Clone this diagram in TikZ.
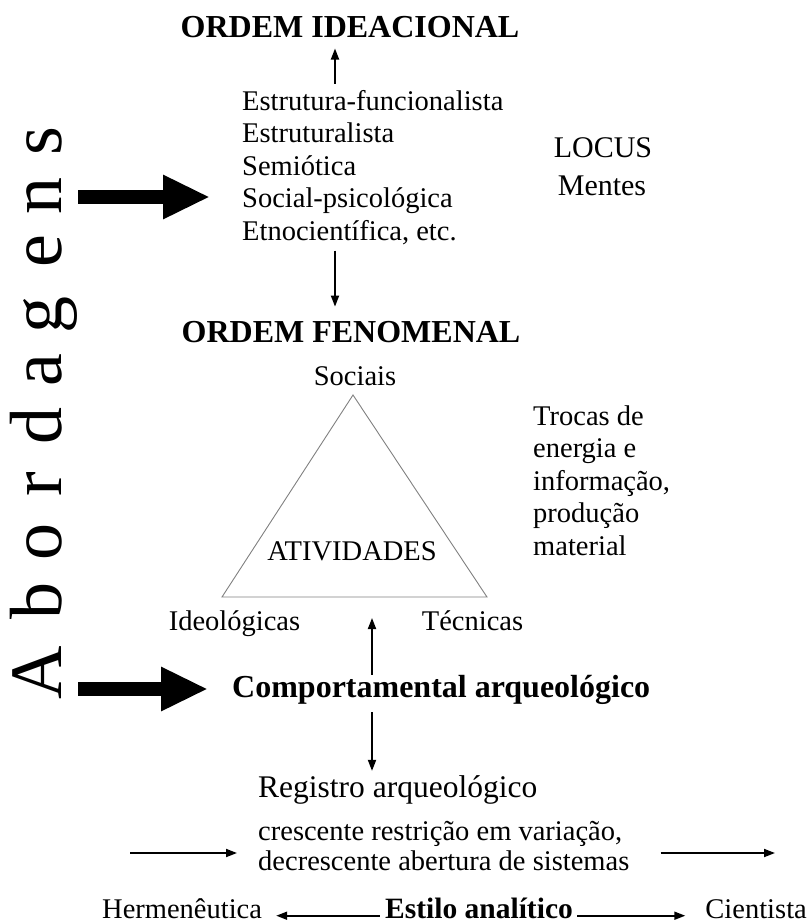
\documentclass[tikz,border=0pt]{standalone}
\usepackage{fontspec}
\setmainfont{Liberation Serif}
\usepackage{tikz}
\usetikzlibrary{arrows.meta}
\tikzset{
    texto/.style={inner sep=0pt, font=\fontsize{28.5}{32}\selectfont},
    titulo/.style={inner sep=0pt, font=\fontsize{32}{36}\selectfont\bfseries},
    letra/.style={inner sep=0pt, rotate=90, anchor=base, font=\fontsize{74}{80}\selectfont},
    fino/.style={-{Triangle[length=11pt, width=8pt]}, line width=1.8pt},
    grossa/.style={-{Triangle[length=47pt, width=41pt]}, line width=14pt},
    tri/.style={draw=gray, line width=0.9pt}
}

\begin{document}
\begin{tikzpicture}[x=1pt, y=-1pt]
        \useasboundingbox (0,0) rectangle (810,924);

        \foreach \l/\y in {A/673, b/601, o/542, r/484, d/426, a/370, g/315, e/251, n/196, s/141}
            \node[letra] (L\l) at (61,\y) {\l};

        \node[titulo, anchor=base] (ideac) at (350,37) {ORDEM IDEACIONAL};
        \foreach \t [count=\i] in {Estrutura-funcionalista, Estruturalista, Semiótica, Social-psicológica, {Etnocientífica, etc.}}
            \node[texto, anchor=base west] (l\i) at (242,77.5+32.5*\i) {\t};
        \node[texto, anchor=base, font=\fontsize{30}{34}\selectfont] (locus) at (603,157) {LOCUS};
        \node[texto, anchor=base, font=\fontsize{30}{34}\selectfont] (mentes) at (602,195) {Mentes};

        \node[titulo, anchor=base] (fenom) at (351,342) {ORDEM FENOMENAL};
        \node[texto, anchor=base] (sociais) at (355,385) {Sociais};
        \draw[tri] (353,395) coordinate (topo) -- (222,597) coordinate (esq) -- (487,597) coordinate (dir) -- cycle;
        \node[texto, anchor=base] (ativ) at (352,560) {ATIVIDADES};
        \node[texto, anchor=base] (ideol) at (234.5,630) {Ideológicas};
        \node[texto, anchor=base] (tecn) at (472.5,630) {Técnicas};
        \foreach \t [count=\i] in {Trocas de, energia e, {informação,}, produção, material}
            \node[texto, anchor=base west] (tr\i) at (533,392.5+32.5*\i) {\t};

        \node[titulo, anchor=base west] (comp) at (232,697) {Comportamental arqueológico};
        \node[texto, anchor=base west, font=\fontsize{31.5}{34}\selectfont] (reg) at (258,797) {Registro arqueológico};
        \node[texto, anchor=base west] (cresc) at (258,840) {crescente restrição em variação,};
        \node[texto, anchor=base west] (decresc) at (258,870) {decrescente abertura de sistemas};

        \node[texto, anchor=base, font=\fontsize{29.5}{32}\selectfont\bfseries] (estilo) at (479,918) {Estilo analítico};
        \node[texto, anchor=base west] (herm) at (102,918) {Hermenêutica};
        \node[texto, anchor=base east] (cient) at (807,918) {Cientista};

        \coordinate (e1) at (335,0);
        \coordinate (e2) at (372,0);
        \coordinate (b1) at (78,197);
        \coordinate (b2) at (78,689);
        \coordinate (ini) at (130,853);
        \coordinate (fim) at (775,853);

        \draw[grossa, shorten >=32pt] (b1) -- (b1 -| l4.west);
        \draw[grossa, shorten >=24pt] (b2) -- (b2 -| comp.west);

        \draw[fino, shorten <=6pt, shorten >=11pt] (l1.north -| e1) -- (ideac.south -| e1);
        \draw[fino, shorten <=6pt, shorten >=14pt] (l5.south -| e1) -- (fenom.north -| e1);
        \draw[fino, shorten >=21pt] (comp.north -| e2) -- (esq -| e2);
        \draw[fino, shorten <=8pt, shorten >=4pt] (comp.south -| e2) -- (reg.north -| e2);
        \draw[fino, shorten >=21pt] (ini) -- (ini -| cresc.west);
        \draw[fino, shorten <=31pt] (ini -| decresc.east) -- (fim);
        \draw[fino, shorten <=5pt, shorten >=14pt] (estilo.mid west) -- (herm.mid east);
        \draw[fino, shorten <=4pt, shorten >=20pt] (estilo.mid east) -- (cient.mid west);
    \end{tikzpicture}
\end{document}
